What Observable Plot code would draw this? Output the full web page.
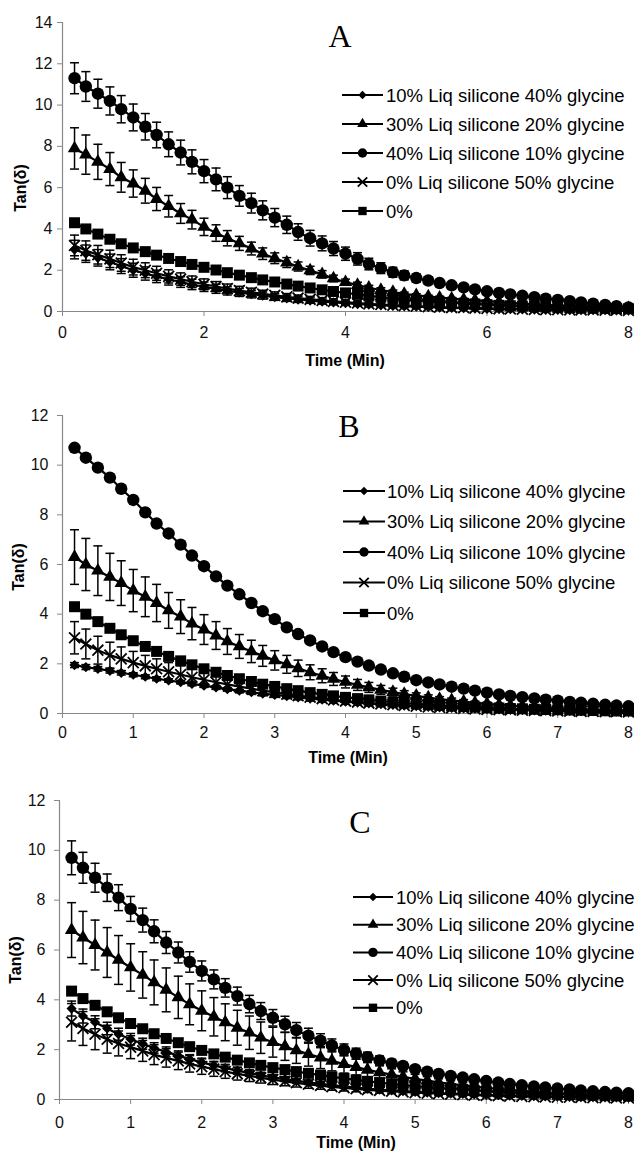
<!DOCTYPE html>
<html><head><meta charset="utf-8">
<script src="https://cdn.jsdelivr.net/npm/d3@7"></script>
<script src="https://cdn.jsdelivr.net/npm/@observablehq/plot@0.6"></script>
<style>
body{margin:0;background:#fff;}
#chart svg{display:block;}
</style>
</head><body><div id="chart"></div>
<script>
// ---------- data ----------
const time = [0.17,0.33,0.5,0.67,0.83,1,1.17,1.33,1.5,1.67,1.83,2,2.17,2.33,2.5,2.67,2.83,3,3.17,3.33,3.5,3.67,3.83,4,4.17,4.33,4.5,4.67,4.83,5,5.17,5.33,5.5,5.67,5.83,6,6.17,6.33,6.5,6.67,6.83,7,7.17,7.33,7.5,7.67,7.83,8];
const seriesNames = ["10% Liq silicone 40% glycine","30% Liq silicone 20% glycine","40% Liq silicone 10% glycine","0% Liq silicone 50% glycine","0%"];
const panelTitles = ["A","B","C"];
const xTicksA = [0,2,4,6,8];
const xTicksBC = [0,1,2,3,4,5,6,7,8];
const yTicksA = [0,2,4,6,8,10,12,14];
const yTicksBC = [0,2,4,6,8,10,12];
const xLabel = "Time (Min)";
const yLabel = "Tan(δ)";

// Panel A
const aDia = [3.0,2.8,2.6,2.4,2.2,2.0,1.84,1.7,1.56,1.43,1.31,1.2,1.1,1.0,0.92,0.84,0.77,0.7,0.64,0.58,0.53,0.48,0.44,0.4,0.36,0.33,0.3,0.27,0.25,0.23,0.21,0.19,0.17,0.16,0.14,0.13,0.12,0.11,0.1,0.09,0.08,0.08,0.07,0.07,0.06,0.06,0.05,0.05];
const aTri = [7.9,7.6,7.25,6.9,6.5,6.2,5.85,5.45,5.1,4.75,4.45,4.1,3.8,3.55,3.3,3.05,2.8,2.58,2.37,2.18,1.99,1.8,1.6,1.42,1.28,1.15,1.04,0.94,0.85,0.78,0.72,0.67,0.62,0.58,0.54,0.5,0.46,0.42,0.38,0.35,0.32,0.29,0.26,0.24,0.22,0.2,0.18,0.16];
const aCir = [11.3,10.9,10.55,10.2,9.8,9.4,8.95,8.55,8.1,7.7,7.25,6.8,6.4,6.0,5.6,5.25,4.9,4.55,4.2,3.85,3.55,3.3,3.05,2.8,2.55,2.3,2.1,1.9,1.75,1.62,1.5,1.38,1.27,1.17,1.07,0.98,0.9,0.83,0.76,0.69,0.62,0.56,0.5,0.44,0.38,0.32,0.26,0.2];
const aX = [3.2,2.95,2.75,2.55,2.35,2.15,2.0,1.85,1.7,1.57,1.44,1.32,1.21,1.11,1.01,0.93,0.85,0.78,0.71,0.65,0.59,0.54,0.49,0.45,0.41,0.37,0.34,0.31,0.28,0.26,0.23,0.21,0.19,0.18,0.16,0.15,0.13,0.12,0.11,0.1,0.09,0.09,0.08,0.07,0.07,0.06,0.06,0.05];
const aSq = [4.3,4.0,3.75,3.5,3.28,3.08,2.9,2.73,2.57,2.42,2.28,2.14,2.01,1.88,1.76,1.64,1.53,1.43,1.33,1.23,1.14,1.05,0.97,0.9,0.83,0.76,0.7,0.64,0.59,0.54,0.5,0.46,0.42,0.39,0.36,0.33,0.3,0.28,0.26,0.24,0.22,0.2,0.19,0.17,0.16,0.15,0.14,0.13];
const aDiaErr = [0.45,0.42,0.4,0.38,0.36,0.34,0.32,0.3,0.28,0.26,0.25,0.23,0.22,0.2,0.19,0.18,0.17,0.16,0.15,0.14,0.13,0.12,0.11,0.1,0.1,0.09,0.08,0.08,0.07,0.07,0.06,0.06,0.05,0.05,0.05,0.04,0.04,0.04,0.03,0.03,0.03,0.03,0.02,0.02,0.02,0.02,0.02,0.02];
const aTriErr = [1.0,0.95,0.85,0.8,0.72,0.66,0.6,0.56,0.52,0.48,0.45,0.42,0.4,0.37,0.34,0.31,0.28,0.26,0.24,0.22,0.2,0.18,0.16,0.15,0.14,0.12,0.11,0.1,0.09,0.08,0.07,0.07,0.06,0.06,0.05,0.05,0.04,0.04,0.04,0.03,0.03,0.03,0.03,0.02,0.02,0.02,0.02,0.02];
const aCirErr = [0.75,0.72,0.7,0.68,0.66,0.65,0.64,0.62,0.6,0.6,0.58,0.56,0.55,0.53,0.5,0.48,0.46,0.44,0.42,0.4,0.38,0.36,0.34,0.32,0.3,0.28,0.26,0.24,0.22,0.2,0.18,0.17,0.16,0.15,0.14,0.13,0.12,0.11,0.1,0.09,0.08,0.07,0.07,0.06,0.06,0.05,0.05,0.05];
const aXErr = [0.5,0.47,0.45,0.42,0.4,0.38,0.36,0.34,0.32,0.3,0.28,0.26,0.24,0.22,0.21,0.2,0.18,0.17,0.16,0.15,0.14,0.13,0.12,0.11,0.1,0.09,0.09,0.08,0.07,0.07,0.06,0.06,0.05,0.05,0.05,0.04,0.04,0.04,0.03,0.03,0.03,0.03,0.02,0.02,0.02,0.02,0.02,0.02];

// Panel B
const bDia = [1.95,1.87,1.8,1.72,1.64,1.56,1.48,1.4,1.33,1.26,1.19,1.12,1.05,0.98,0.92,0.86,0.8,0.75,0.7,0.65,0.6,0.56,0.52,0.48,0.44,0.41,0.38,0.35,0.32,0.3,0.27,0.25,0.23,0.21,0.2,0.18,0.17,0.15,0.14,0.13,0.12,0.11,0.1,0.09,0.09,0.08,0.08,0.07];
const bTri = [6.3,6.0,5.75,5.5,5.25,4.95,4.7,4.45,4.15,3.9,3.62,3.38,3.14,2.9,2.7,2.5,2.32,2.14,1.98,1.82,1.66,1.52,1.39,1.27,1.15,1.05,0.95,0.86,0.78,0.71,0.64,0.58,0.53,0.48,0.43,0.39,0.35,0.32,0.29,0.26,0.24,0.22,0.2,0.18,0.16,0.15,0.14,0.13];
const bCir = [10.7,10.3,9.9,9.5,9.05,8.6,8.1,7.65,7.25,6.8,6.36,5.93,5.52,5.15,4.8,4.45,4.12,3.8,3.47,3.2,2.94,2.7,2.47,2.27,2.09,1.93,1.77,1.62,1.48,1.34,1.25,1.17,1.08,1.0,0.92,0.84,0.77,0.71,0.66,0.61,0.56,0.52,0.47,0.43,0.39,0.35,0.32,0.29];
const bX = [3.05,2.8,2.55,2.35,2.2,2.05,1.92,1.8,1.68,1.57,1.46,1.36,1.26,1.17,1.08,1.0,0.92,0.85,0.78,0.72,0.66,0.6,0.55,0.5,0.46,0.42,0.38,0.35,0.32,0.29,0.26,0.24,0.22,0.2,0.18,0.16,0.15,0.14,0.13,0.12,0.11,0.1,0.09,0.08,0.08,0.07,0.07,0.06];
const bSq = [4.3,4.0,3.7,3.43,3.17,2.93,2.7,2.5,2.3,2.12,1.96,1.8,1.66,1.53,1.4,1.29,1.18,1.09,1.0,0.92,0.84,0.77,0.71,0.65,0.6,0.55,0.5,0.46,0.42,0.39,0.36,0.33,0.3,0.28,0.26,0.24,0.22,0.2,0.19,0.17,0.16,0.15,0.14,0.13,0.12,0.11,0.1,0.1];
const bDiaErr = [0.1,0.1,0.09,0.09,0.09,0.08,0.08,0.08,0.07,0.07,0.07,0.06,0.06,0.06,0.05,0.05,0.05,0.05,0.04,0.04,0.04,0.04,0.03,0.03,0.03,0.03,0.03,0.02,0.02,0.02,0.02,0.02,0.02,0.02,0.01,0.01,0.01,0.01,0.01,0.01,0.01,0.01,0.01,0.01,0.01,0.01,0.01,0.01];
const bTriErr = [1.1,1.05,1.0,0.95,0.9,0.85,0.8,0.75,0.72,0.68,0.65,0.6,0.56,0.52,0.48,0.45,0.42,0.39,0.36,0.33,0.3,0.28,0.26,0.24,0.22,0.2,0.18,0.16,0.14,0.12,0.11,0.1,0.09,0.08,0.07,0.07,0.06,0.06,0.05,0.05,0.05,0.04,0.04,0.04,0.03,0.03,0.03,0.03];
const bXErr = [0.65,0.6,0.56,0.52,0.48,0.45,0.42,0.4,0.37,0.35,0.33,0.31,0.29,0.27,0.25,0.23,0.21,0.2,0.18,0.17,0.16,0.15,0.14,0.13,0.12,0.11,0.1,0.09,0.08,0.08,0.07,0.07,0.06,0.06,0.05,0.05,0.05,0.04,0.04,0.04,0.03,0.03,0.03,0.03,0.02,0.02,0.02,0.02];

// Panel C
const cDia = [3.65,3.35,3.1,2.85,2.62,2.42,2.24,2.07,1.91,1.76,1.62,1.49,1.37,1.26,1.16,1.06,0.97,0.89,0.82,0.75,0.69,0.63,0.58,0.53,0.48,0.44,0.4,0.37,0.34,0.31,0.28,0.26,0.24,0.22,0.2,0.18,0.17,0.15,0.14,0.13,0.12,0.11,0.1,0.09,0.09,0.08,0.08,0.07];
const cTri = [6.8,6.5,6.2,5.9,5.6,5.3,5.0,4.7,4.4,4.1,3.82,3.56,3.32,3.1,2.88,2.68,2.48,2.3,2.13,1.97,1.82,1.68,1.55,1.42,1.3,1.19,1.09,1.0,0.91,0.83,0.76,0.69,0.63,0.57,0.52,0.47,0.43,0.39,0.35,0.32,0.29,0.26,0.24,0.22,0.2,0.18,0.17,0.16];
const cCir = [9.7,9.3,8.9,8.5,8.1,7.65,7.2,6.75,6.3,5.9,5.52,5.16,4.82,4.48,4.15,3.83,3.55,3.28,3.02,2.78,2.56,2.36,2.17,1.99,1.84,1.7,1.57,1.45,1.35,1.22,1.12,1.03,0.95,0.88,0.81,0.74,0.68,0.62,0.57,0.52,0.48,0.44,0.4,0.36,0.33,0.3,0.27,0.25];
const cX = [3.1,2.85,2.62,2.42,2.25,2.1,1.95,1.8,1.67,1.55,1.43,1.32,1.22,1.12,1.03,0.95,0.87,0.8,0.73,0.67,0.61,0.56,0.51,0.47,0.43,0.39,0.36,0.33,0.3,0.27,0.25,0.23,0.21,0.19,0.17,0.16,0.15,0.13,0.12,0.11,0.1,0.09,0.09,0.08,0.07,0.07,0.06,0.06];
const cSq = [4.35,4.05,3.78,3.52,3.28,3.05,2.84,2.64,2.45,2.28,2.12,1.97,1.83,1.7,1.58,1.47,1.37,1.28,1.2,1.12,1.05,0.98,0.91,0.85,0.79,0.73,0.68,0.63,0.58,0.54,0.5,0.46,0.43,0.4,0.37,0.34,0.31,0.29,0.27,0.25,0.23,0.21,0.2,0.18,0.17,0.16,0.15,0.14];
const cDiaErr = [0.3,0.28,0.26,0.25,0.24,0.23,0.22,0.21,0.2,0.19,0.18,0.17,0.16,0.15,0.14,0.13,0.12,0.11,0.1,0.1,0.09,0.09,0.08,0.08,0.07,0.07,0.06,0.06,0.05,0.05,0.05,0.04,0.04,0.04,0.03,0.03,0.03,0.03,0.03,0.02,0.02,0.02,0.02,0.02,0.02,0.02,0.02,0.02];
const cTriErr = [1.1,1.05,1.0,1.0,0.98,0.95,0.93,0.9,0.88,0.85,0.82,0.8,0.77,0.74,0.7,0.67,0.63,0.6,0.56,0.52,0.48,0.44,0.4,0.36,0.32,0.29,0.26,0.23,0.2,0.18,0.16,0.14,0.12,0.1,0.09,0.08,0.07,0.07,0.06,0.06,0.05,0.05,0.05,0.04,0.04,0.04,0.03,0.03];
const cCirErr = [0.68,0.62,0.58,0.55,0.52,0.5,0.48,0.46,0.44,0.42,0.41,0.4,0.38,0.37,0.36,0.35,0.34,0.33,0.32,0.31,0.3,0.28,0.26,0.24,0.22,0.2,0.18,0.16,0.14,0.12,0.11,0.1,0.09,0.08,0.07,0.07,0.06,0.06,0.05,0.05,0.05,0.04,0.04,0.04,0.03,0.03,0.03,0.03];
const cXErr = [0.75,0.68,0.62,0.56,0.5,0.46,0.42,0.4,0.37,0.35,0.33,0.31,0.29,0.27,0.25,0.23,0.21,0.2,0.18,0.17,0.16,0.15,0.14,0.13,0.12,0.11,0.1,0.09,0.08,0.08,0.07,0.07,0.06,0.06,0.05,0.05,0.05,0.04,0.04,0.04,0.03,0.03,0.03,0.03,0.02,0.02,0.02,0.02];

// ---------- styling / layout ----------
const FONT = "'Liberation Sans', Arial, sans-serif";
const capSymbol = {draw(ctx, size) { const w = Math.sqrt(size / Math.PI); ctx.moveTo(-w, 0); ctx.lineTo(w, 0); }};
const markerStyles = [
  {symbol: "diamond2", r: 4.6, fill: "#000"},
  {symbol: "triangle", r: 5, fill: "#000"},
  {symbol: "circle", r: 6.2, fill: "#000"},
  {symbol: "times", r: 5, fill: "none", stroke: "#000", strokeWidth: 1.8},
  {symbol: "square", r: 6.2, fill: "#000"}
];
const legendSymbols = [
  {type: d3.symbolDiamond2, size: 45, fill: true},
  {type: d3.symbolTriangle, size: 50, fill: true},
  {type: d3.symbolCircle, size: 70, fill: true},
  {type: d3.symbolTimes, size: 60, fill: false},
  {type: d3.symbolSquare, size: 70, fill: true}
];

const panels = [
  {title: panelTitles[0], values: [aDia, aTri, aCir, aX, aSq], errors: [aDiaErr, aTriErr, aCirErr, aXErr, null], yMax: 14, yTicks: yTicksA, xTicks: xTicksA,
   L: {height: 378, mt: 22, mb: 67, ml: 62, mr: 6, yPad: 5, xPad: 10, titleX: 340, titleY: 36, lx0: 342, llen: 41, ltx: 386, ly0: 95, ldy: 29, lfs: 18.5, yLabX: 20, yLabY: 188, xLabX: 345, xLabY: 360}},
  {title: panelTitles[1], values: [bDia, bTri, bCir, bX, bSq], errors: [bDiaErr, bTriErr, null, bXErr, null], yMax: 12, yTicks: yTicksBC, xTicks: xTicksBC,
   L: {height: 392, mt: 37, mb: 57, ml: 62, mr: 6, yPad: 9, xPad: 8, titleX: 349, titleY: 48, lx0: 343, llen: 42, ltx: 387, ly0: 113, ldy: 30.5, lfs: 18.5, yLabX: 18, yLabY: 189, xLabX: 348, xLabY: 379}},
  {title: panelTitles[2], values: [cDia, cTri, cCir, cX, cSq], errors: [cDiaErr, cTriErr, cCirErr, cXErr, null], yMax: 12, yTicks: yTicksBC, xTicks: xTicksBC,
   L: {height: 384, mt: 30, mb: 55, ml: 59, mr: 6, yPad: 9, xPad: 12, titleX: 360, titleY: 52, lx0: 353, llen: 40, ltx: 396, ly0: 127, ldy: 27.7, lfs: 18.5, yLabX: 15, yLabY: 190, xLabX: 356, xLabY: 372}}
];

function decor(p) {
  const L = p.L;
  return () => {
    const g = d3.create("svg:g").attr("text-anchor", "start");
    g.append("text").attr("x", L.titleX).attr("y", L.titleY)
      .attr("text-anchor", "middle").attr("dominant-baseline", "central")
      .attr("font-family", "'Liberation Serif', 'Times New Roman', serif").attr("font-size", 32).attr("fill", "#000")
      .text(p.title);
    seriesNames.forEach((name, i) => {
      const y = L.ly0 + i * L.ldy;
      g.append("line").attr("x1", L.lx0).attr("x2", L.lx0 + L.llen).attr("y1", y).attr("y2", y)
        .attr("stroke", "#000").attr("stroke-width", 2);
      const s = legendSymbols[i];
      g.append("path").attr("transform", `translate(${L.lx0 + L.llen / 2},${y})`)
        .attr("d", d3.symbol(s.type, s.size)())
        .attr("fill", s.fill ? "#000" : "none").attr("stroke", s.fill ? "none" : "#000").attr("stroke-width", 1.8);
      g.append("text").attr("x", L.ltx).attr("y", y).attr("dominant-baseline", "central")
        .attr("text-anchor", "start")
        .attr("font-family", FONT).attr("font-size", L.lfs).attr("fill", "#000").text(name);
    });
    g.append("text").attr("transform", `translate(${L.yLabX},${L.yLabY}) rotate(-90)`)
      .attr("text-anchor", "middle").attr("dominant-baseline", "central")
      .attr("font-family", FONT).attr("font-size", 16).attr("font-weight", "bold").attr("fill", "#000").text(yLabel);
    g.append("text").attr("x", L.xLabX).attr("y", L.xLabY)
      .attr("text-anchor", "middle").attr("dominant-baseline", "central")
      .attr("font-family", FONT).attr("font-size", 16).attr("font-weight", "bold").attr("fill", "#000").text(xLabel);
    return g.node();
  };
}

function makePanel(p) {
  const L = p.L;
  const marks = [
    Plot.ruleY([0], {stroke: "#888", strokeWidth: 1.2}),
    Plot.ruleX([0], {stroke: "#888", strokeWidth: 1.2}),
    Plot.axisY({ticks: p.yTicks, tickSize: 5, tickPadding: L.yPad, stroke: "#888", fill: "#111", label: null}),
    Plot.axisX({ticks: p.xTicks, tickSize: 5, tickPadding: L.xPad, stroke: "#888", fill: "#111", label: null})
  ];
  seriesNames.forEach((name, s) => {
    const rows = time.map((t, i) => ({t, v: p.values[s][i], e: p.errors[s] ? p.errors[s][i] : 0}));
    if (p.errors[s]) {
      marks.push(Plot.ruleX(rows, {x: "t", y1: d => d.v - d.e, y2: d => d.v + d.e, stroke: "#000", strokeWidth: 1.5}));
      marks.push(Plot.dot(rows, {x: "t", y: d => d.v + d.e, symbol: capSymbol, r: 4.5, stroke: "#000", strokeWidth: 1.5, fill: "none"}));
      marks.push(Plot.dot(rows, {x: "t", y: d => d.v - d.e, symbol: capSymbol, r: 4.5, stroke: "#000", strokeWidth: 1.5, fill: "none"}));
    }
    marks.push(Plot.line(rows, {x: "t", y: "v", stroke: "#000", strokeWidth: 2.2}));
    marks.push(Plot.dot(rows, {x: "t", y: "v", ...markerStyles[s]}));
  });
  marks.push(decor(p));
  return Plot.plot({
    width: 634, height: L.height,
    marginTop: L.mt, marginBottom: L.mb, marginLeft: L.ml, marginRight: L.mr,
    x: {domain: [0, 8]},
    y: {domain: [0, p.yMax]},
    style: {fontFamily: FONT, fontSize: "16px", color: "#111", background: "#fff", overflow: "visible"},
    marks
  });
}

const chart = document.getElementById("chart");
panels.forEach(p => chart.appendChild(makePanel(p)));
</script>
</body></html>
